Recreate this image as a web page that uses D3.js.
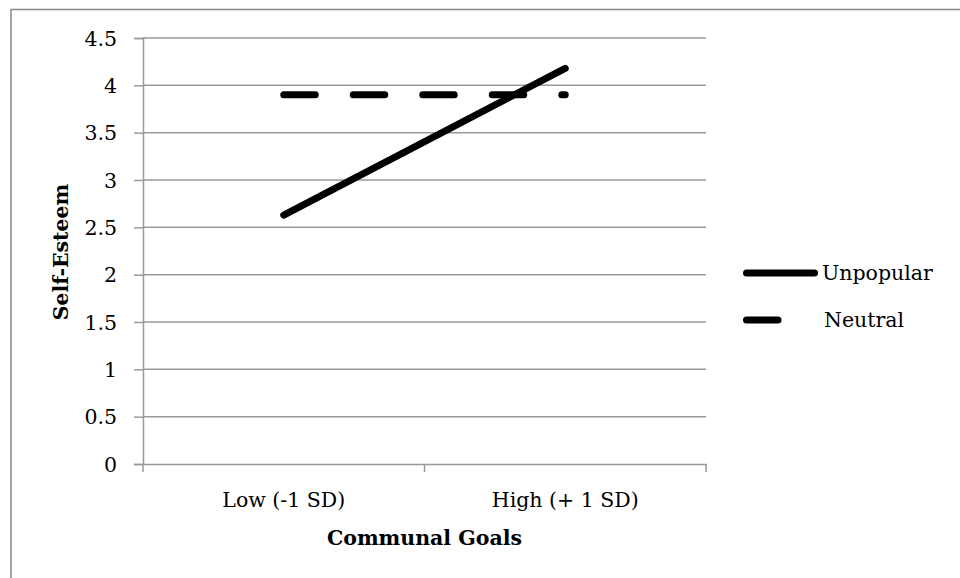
<!DOCTYPE html>
<html><head><meta charset="utf-8">
<script src="https://cdn.jsdelivr.net/npm/d3@7"></script>
<style>body{margin:0;background:#fff}svg{display:block}</style>
</head><body>
<svg id="c" width="960" height="578"></svg>
<script>
const categories = ["Low (-1 SD)", "High (+ 1 SD)"];
const seriesNames = ["Unpopular", "Neutral"];
const unpopular = [2.63, 4.18];
const neutral = [3.9, 3.9];
const yTicks = [0, 0.5, 1, 1.5, 2, 2.5, 3, 3.5, 4, 4.5];

const svg = d3.select("#c");
const font = "'DejaVu Serif','Liberation Serif',serif";
const FS = 20.5;
const L = 143, R = 706, T = 38, B = 464;

svg.append("rect").attr("x", 11).attr("y", 9.5).attr("width", 1000).attr("height", 1000)
  .attr("fill", "none").attr("stroke", "#888").attr("stroke-width", 1.5);

const x = d3.scaleBand().domain(categories).range([L, R]);
const y = d3.scaleLinear().domain([0, 4.5]).range([B, T]);

// gridlines
svg.append("g").selectAll("line").data(yTicks.filter(d => d > 0)).join("line")
  .attr("x1", L).attr("x2", R).attr("y1", d => y(d)).attr("y2", d => y(d))
  .attr("stroke", "#999").attr("stroke-width", 1.5);

// y axis
const ya = svg.append("g").attr("transform", `translate(${L},0)`)
  .call(d3.axisLeft(y).tickValues(yTicks).tickSize(9).tickPadding(17).tickFormat(d3.format("")));
ya.attr("font-family", font).attr("font-size", FS);
ya.select(".domain").attr("stroke", "#999").attr("stroke-width", 1.5);
ya.selectAll(".tick line").attr("stroke", "#999").attr("stroke-width", 1.5);
ya.selectAll("text").attr("fill", "#000").attr("dy", "0.35em");

// x axis
const xa = svg.append("g").attr("transform", `translate(0,${B})`)
  .call(d3.axisBottom(x).tickSize(0).tickPadding(0));
xa.attr("font-family", font).attr("font-size", FS);
xa.select(".domain").attr("stroke", "#999").attr("stroke-width", 1.5);
xa.selectAll("text").attr("fill", "#000").attr("y", 36).attr("dy", "0.35em");
const bounds = [L, ...categories.map(c => x(c) + x.bandwidth())];
svg.append("g").selectAll("line").data(bounds).join("line")
  .attr("x1", d => d).attr("x2", d => d).attr("y1", B).attr("y2", B + 8)
  .attr("stroke", "#999").attr("stroke-width", 1.5);

const cx = d => x(d) + x.bandwidth() / 2;
const line = d3.line().x((d, i) => cx(categories[i])).y(d => y(d));

svg.append("path").datum(unpopular).attr("d", line)
  .attr("fill", "none").attr("stroke", "#000").attr("stroke-width", 7).attr("stroke-linecap", "round");
svg.append("path").datum(neutral).attr("d", line)
  .attr("fill", "none").attr("stroke", "#000").attr("stroke-width", 7).attr("stroke-linecap", "round")
  .attr("stroke-dasharray", "31.5,38");

// axis titles
svg.append("text").attr("x", (L + R) / 2).attr("y", 538).attr("dy", "0.35em").attr("text-anchor", "middle")
  .attr("font-family", font).attr("font-weight", "bold").attr("font-size", FS).text("Communal Goals");
svg.append("text").attr("transform", "translate(61,252) rotate(-90)").attr("dy", "0.35em").attr("text-anchor", "middle")
  .attr("font-family", font).attr("font-weight", "bold").attr("font-size", FS).text("Self-Esteem");

// legend
const lg = svg.append("g");
seriesNames.forEach((n, i) => {
  const yy = 273 + i * 47;
  lg.append("line").attr("x1", 746.5).attr("x2", i === 0 ? 814.5 : 778).attr("y1", yy).attr("y2", yy)
    .attr("stroke", "#000").attr("stroke-width", 7).attr("stroke-linecap", "round");
  lg.append("text").attr("x", i === 0 ? 822 : 824).attr("y", yy).attr("dy", "0.35em")
    .attr("font-family", font).attr("font-size", FS).text(n);
});
</script>
</body></html>
